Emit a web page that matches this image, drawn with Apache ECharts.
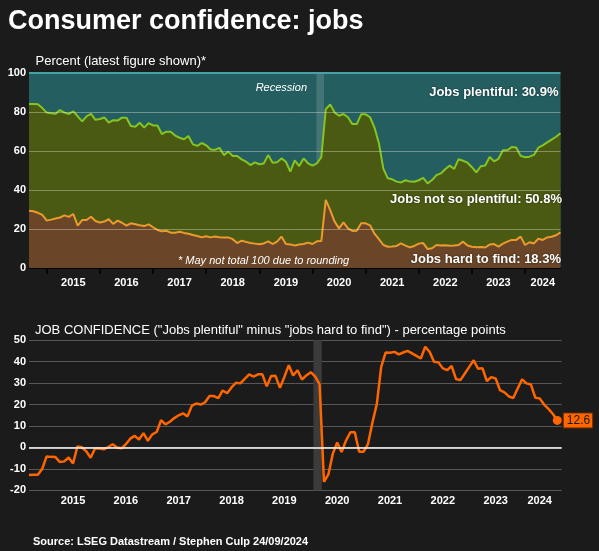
<!DOCTYPE html>
<html><head><meta charset="utf-8">
<script src="https://cdn.jsdelivr.net/npm/echarts@6/dist/echarts.min.js"></script>
<style>html,body{margin:0;padding:0;background:#1b1b1b;}#c{width:599px;height:551px;}</style>
</head><body><div id="c"></div>
<script>
// Monthly data, Sep 2014 .. Sep 2024
const firstMonth = {year: 2014, month: 9};
const hardToFind = [
 29.4,29.1,28.3,27.2,24.3,24.8,25.4,25.9,27.0,26.2,
 27.7,21.7,24.6,24.6,26.3,24.1,23.3,23.8,25.0,22.6,
 24.3,23.2,21.7,22.9,22.4,21.9,21.5,22.4,20.9,19.5,
 18.8,19.1,18.1,18.1,18.6,18.0,17.6,16.9,16.4,15.7,
 16.3,15.7,16.1,15.8,15.6,15.7,14.8,12.8,14.0,13.4,
 12.8,12.5,12.2,12.6,13.7,12.3,13.5,16.1,12.3,12.1,
 11.5,12.0,12.3,13.0,12.3,13.7,13.8,34.9,29.7,23.8,
 20.3,23.4,20.3,19.0,19.1,22.9,22.9,21.9,17.6,14.8,
 11.8,10.9,11.0,11.3,12.6,11.5,10.6,11.3,12.5,12.8,
 9.7,10.1,11.8,11.5,11.7,11.4,11.5,11.8,13.5,11.5,
 10.9,10.6,10.8,10.5,12.0,12.3,11.0,12.5,13.5,14.4,
 14.4,16.1,11.8,13.2,12.6,15.0,14.4,15.7,16.0,16.8,
 18.3];
const notSoPlentiful = [
 54.7,55.0,55.7,54.8,55.4,54.6,53.7,55.1,52.7,52.8,
 52.6,56.1,50.6,53.2,52.7,51.9,53.1,53.4,49.6,53.2,
 51.3,53.9,55.3,49.9,50.0,52.6,50.5,51.9,52.2,53.6,
 49.9,50.8,51.8,49.8,48.2,48.0,50.1,46.5,46.2,48.4,
 46.6,45.1,44.5,45.8,42.3,44.0,42.6,44.6,41.7,41.1,
 40.0,41.7,41.0,41.0,44.2,41.7,40.7,40.1,42.2,37.3,
 43.7,40.3,43.9,40.7,40.2,40.0,43.0,46.5,54.2,55.9,
 57.8,55.6,57.0,54.8,54.7,55.9,55.9,55.4,54.4,49.2,
 39.2,35.1,34.5,33.0,31.3,33.5,33.7,32.9,32.5,33.4,
 33.7,35.0,35.8,37.0,39.1,41.1,39.3,44.0,41.5,42.5,
 40.8,38.4,41.4,42.1,44.9,42.4,45.0,47.9,46.9,47.6,
 47.4,41.4,45.0,43.9,45.4,46.7,48.5,48.7,49.8,50.5,
 50.8];
const jobConfidence = [
 -12.9,-12.8,-12.7,-10.0,-4.2,-4.4,-4.5,-6.8,-6.5,-4.7,
 -7.5,0.5,0.1,-1.8,-4.8,-0.5,-0.5,-0.9,0.2,1.5,
 0.0,-0.4,1.5,4.1,5.4,3.7,6.7,3.1,6.1,7.2,
 12.7,10.8,12.0,13.7,15.0,15.9,14.5,19.5,20.5,20.0,
 21.1,24.0,24.0,23.0,26.6,25.3,28.0,30.2,29.9,32.0,
 34.1,33.1,34.1,34.1,28.5,33.3,33.4,27.8,32.9,38.4,
 33.6,36.0,31.7,33.6,35.1,33.1,29.5,-16.0,-12.6,-3.0,
 2.3,-2.1,3.2,7.1,7.1,-2.0,-2.0,1.6,11.5,20.2,
 37.6,44.3,44.2,44.6,43.4,44.3,45.1,43.9,42.7,41.5,
 47.0,44.6,40.0,39.7,36.9,36.1,38.0,31.9,31.4,34.5,
 37.6,40.7,36.7,37.0,31.0,32.8,32.2,26.7,25.7,23.8,
 23.1,27.5,31.8,29.9,29.4,23.2,22.9,20.0,18.0,15.6,
 12.6];
const yearLabelMonths = ['2015-07','2016-07','2017-07','2018-07','2019-07','2020-07','2021-07','2022-07','2023-07','2024-05'];
const percentGridValues = [20, 40, 60, 80];
const recessionTop = [64.9, 66.6];   // month offsets from Sep 2014 (Feb-Apr 2020)
const recessionBottom = [64.6, 66.5];
const latestLabels = ['Jobs plentiful: 30.9%', 'Jobs not so plentiful: 50.8%', 'Jobs hard to find: 18.3%'];

function monthList(n){
  const out = []; let y = firstMonth.year, m = firstMonth.month;
  for (let k = 0; k < n; k++) { out.push(y + '-' + String(m).padStart(2,'0')); m++; if (m > 12) { m = 1; y++; } }
  return out;
}
const topCats = monthList(hardToFind.length);
const botCats = monthList(jobConfidence.length + 1);
const FONT = '"Liberation Sans", Arial, sans-serif';
const lastIdx = jobConfidence.length - 1;

const xLabel = (margin) => ({
  interval: (i, v) => yearLabelMonths.indexOf(v) >= 0,
  formatter: v => v.slice(0, 4),
  color: '#ffffff', fontWeight: 'bold', fontSize: 11, fontFamily: FONT, margin: margin
});

const chart = echarts.init(document.getElementById('c'));
chart.setOption({
  backgroundColor: '#1b1b1b',
  animation: false,
  textStyle: {fontFamily: FONT},
  grid: [
    {left: 29, right: 38.5, top: 73, bottom: 283, show: true, backgroundColor: '#245e61', borderWidth: 0},
    {left: 29, right: 37.3, top: 340.3, bottom: 60.7}
  ],
  xAxis: [
    {gridIndex: 0, type: 'category', data: topCats, boundaryGap: false,
     axisLine: {show: true, lineStyle: {color: '#000', width: 1.5}},
     axisTick: {show: true, interval: (i, v) => v.endsWith('-01'), length: 6, lineStyle: {color: '#000', width: 1.5}},
     axisLabel: xLabel(9), splitLine: {show: false}},
    {gridIndex: 1, type: 'category', data: botCats, boundaryGap: false,
     axisLine: {show: false}, axisTick: {show: false},
     axisLabel: xLabel(5), splitLine: {show: false}},
    {gridIndex: 0, type: 'value', min: 0, max: hardToFind.length - 1, show: false},
    {gridIndex: 1, type: 'value', min: 0, max: jobConfidence.length, show: false}
  ],
  yAxis: [
    {gridIndex: 0, type: 'value', min: 0, max: 100, interval: 20,
     axisLine: {show: false}, axisTick: {show: false},
     axisLabel: {color: '#ffffff', fontWeight: 'bold', fontSize: 11, margin: 3},
     splitLine: {show: false}},
    {gridIndex: 1, type: 'value', min: -20, max: 50, interval: 10,
     axisLine: {show: false}, axisTick: {show: false},
     axisLabel: {color: '#ffffff', fontWeight: 'bold', fontSize: 11, margin: 3},
     splitLine: {show: true, lineStyle: {color: '#575757', width: 1}}}
  ],
  series: [
    {type: 'line', xAxisIndex: 0, yAxisIndex: 0, data: hardToFind, stack: 'share', symbol: 'none',
     lineStyle: {color: '#eb9b2e', width: 2}, areaStyle: {color: '#6a4527', opacity: 1}, z: 4},
    {type: 'line', xAxisIndex: 0, yAxisIndex: 0, data: notSoPlentiful, stack: 'share', symbol: 'none',
     lineStyle: {color: '#86c521', width: 2}, areaStyle: {color: '#4a5a12', opacity: 1}, z: 3},
    {type: 'line', xAxisIndex: 2, yAxisIndex: 0, data: [], z: 6, silent: true,
     markArea: {silent: true, itemStyle: {color: 'rgba(225,225,225,0.17)'},
       data: [[{xAxis: recessionTop[0]}, {xAxis: recessionTop[1]}]]},
     markLine: {silent: true, symbol: 'none', label: {show: false},
       lineStyle: {color: 'rgba(235,235,215,0.38)', width: 1, type: 'solid'},
       data: percentGridValues.map(v => ({yAxis: v})).concat([{yAxis: 100, lineStyle: {color: '#45a3a3', width: 2}}])}},
    {type: 'line', xAxisIndex: 3, yAxisIndex: 1, data: [], z: 1, silent: true,
     markArea: {silent: true, itemStyle: {color: '#3b3b3b'},
       data: [[{xAxis: recessionBottom[0]}, {xAxis: recessionBottom[1]}]]},
     markLine: {silent: true, symbol: 'none', label: {show: false}, lineStyle: {color: '#ffffff', width: 1.5, type: 'solid'},
       data: [{yAxis: 0}]}},
    {type: 'line', xAxisIndex: 1, yAxisIndex: 1, data: jobConfidence, symbol: 'none',
     lineStyle: {color: '#ff6600', width: 2.5}, z: 4,
     markPoint: {symbol: 'circle', symbolSize: 9, itemStyle: {color: '#ff6600'},
       label: {show: true, position: 'right', distance: 2, formatter: p => String(p.value),
         backgroundColor: '#ff6600', color: '#1b1b1b', fontSize: 12, fontFamily: FONT,
         padding: [1, 2, 0, 3], lineHeight: 13, borderColor: '#6b2a00', borderWidth: 1},
       data: [{coord: [botCats[lastIdx], jobConfidence[lastIdx]], value: jobConfidence[lastIdx]}]}}
  ],
  graphic: [
    {type: 'text', x: 8, y: 21.5, style: {text: 'Consumer confidence: jobs', fill: '#ffffff', font: 'bold 27px ' + FONT, textVerticalAlign: 'middle'}},
    {type: 'text', x: 35.5, y: 61, style: {text: 'Percent (latest figure shown)*', fill: '#ffffff', font: '13px ' + FONT, textVerticalAlign: 'middle'}},
    {type: 'text', x: 307, y: 88, z: 10, style: {text: 'Recession', fill: '#ffffff', font: 'italic 11px ' + FONT, textAlign: 'right', textVerticalAlign: 'middle'}},
    {type: 'text', x: 558.5, y: 92.5, z: 10, style: {text: latestLabels[0], fill: '#ffffff', font: 'bold 13px ' + FONT, textAlign: 'right', textVerticalAlign: 'middle', textShadowColor: 'rgba(0,0,0,0.6)', textShadowBlur: 2}},
    {type: 'text', x: 562, y: 199.5, z: 10, style: {text: latestLabels[1], fill: '#ffffff', font: 'bold 13px ' + FONT, textAlign: 'right', textVerticalAlign: 'middle', textShadowColor: 'rgba(0,0,0,0.6)', textShadowBlur: 2}},
    {type: 'text', x: 561, y: 259.5, z: 10, style: {text: latestLabels[2], fill: '#ffffff', font: 'bold 13px ' + FONT, textAlign: 'right', textVerticalAlign: 'middle', textShadowColor: 'rgba(0,0,0,0.6)', textShadowBlur: 2}},
    {type: 'text', x: 178, y: 261, z: 10, style: {text: '* May not total 100 due to rounding', fill: '#ffffff', font: 'italic 11px ' + FONT, textVerticalAlign: 'middle'}},
    {type: 'text', x: 35, y: 330, style: {text: 'JOB CONFIDENCE ("Jobs plentiful" minus "jobs hard to find") - percentage points', fill: '#ffffff', font: '13px ' + FONT, textVerticalAlign: 'middle'}},
    {type: 'text', x: 33, y: 541.5, style: {text: 'Source: LSEG Datastream / Stephen Culp 24/09/2024', fill: '#ffffff', font: 'bold 11px ' + FONT, textVerticalAlign: 'middle'}}
  ]
});
</script>
</body></html>
